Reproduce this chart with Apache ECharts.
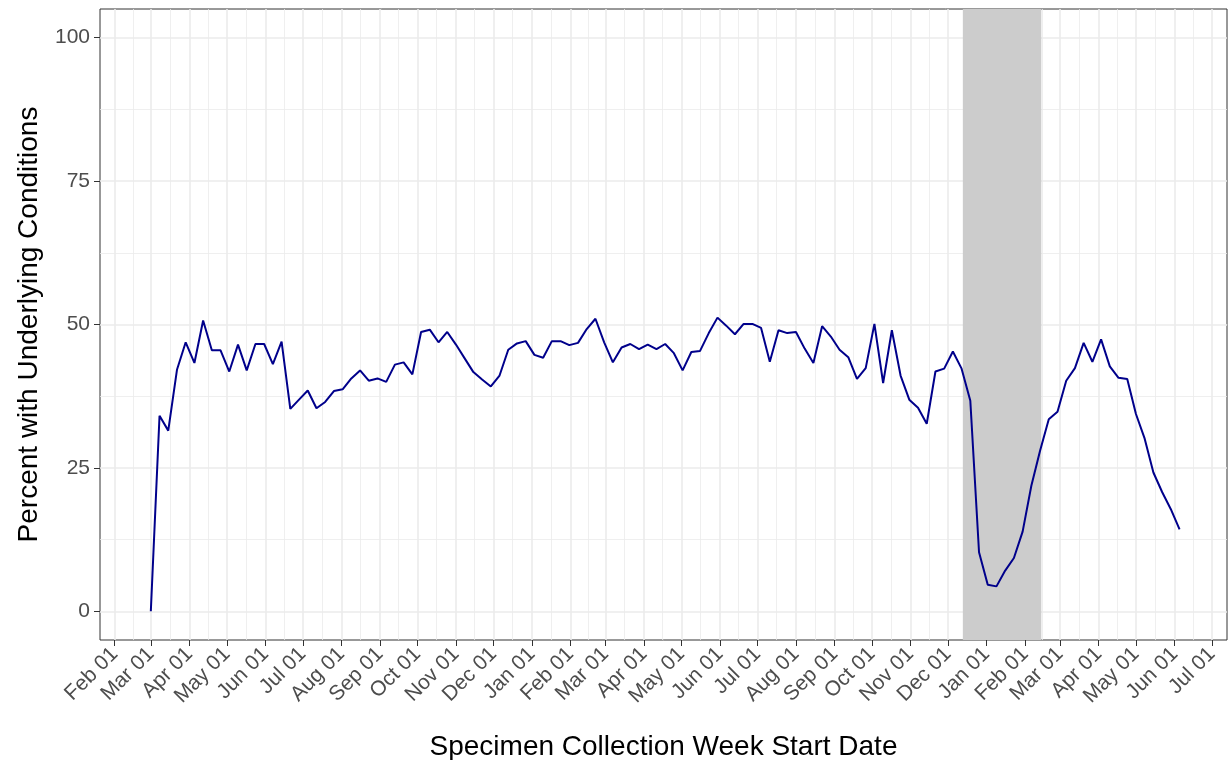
<!DOCTYPE html>
<html>
<head>
<meta charset="utf-8">
<title>Percent with Underlying Conditions</title>
<script src="https://cdn.jsdelivr.net/npm/echarts@6/dist/echarts.min.js"></script>
<style>
  html, body { margin: 0; padding: 0; background: #fff; }
  #chart { width: 1228px; height: 760px; }
</style>
</head>
<body>
<div id="chart"></div>
<script>
const DAY = 86400000

// weekly series, first week starts on firstWeek
const firstWeek = '2020-03-01'
const percentUnderlying = [
  0.0, 34.1, 31.5, 42.1, 46.9, 43.3, 50.7, 45.5, 45.5, 41.8,
  46.5, 42.0, 46.6, 46.6, 43.1, 47.0, 35.3, 36.9, 38.5, 35.4,
  36.5, 38.4, 38.7, 40.6, 42.0, 40.2, 40.6, 40.0, 43.0, 43.4,
  41.3, 48.7, 49.1, 46.9, 48.7, 46.5, 44.1, 41.7, 40.4, 39.2,
  41.1, 45.6, 46.7, 47.1, 44.7, 44.2, 47.1, 47.1, 46.4, 46.8,
  49.2, 51.0, 46.9, 43.4, 46.0, 46.6, 45.7, 46.5, 45.7, 46.6,
  45.0, 42.0, 45.2, 45.4, 48.5, 51.2, 49.8, 48.3, 50.1, 50.1,
  49.4, 43.5, 49.0, 48.5, 48.7, 45.8, 43.3, 49.7, 47.9, 45.6,
  44.3, 40.5, 42.4, 50.1, 39.8, 49.0, 41.1, 36.9, 35.5, 32.7,
  41.8, 42.3, 45.3, 42.3, 36.7, 10.3, 4.65, 4.35, 7.1, 9.3,
  13.9, 21.9, 28.0, 33.5, 34.8, 40.2, 42.4, 46.8, 43.5, 47.4,
  42.7, 40.7, 40.5, 34.4, 30.1, 24.2, 20.8, 17.8, 14.3
]

// grey band
const shadeStart = '2021-12-13'
const shadeEnd = '2022-02-14'

// axis breaks
const firstMonth = '2020-02-01'
const lastMonth = '2022-07-01'
const monthNames = ['Jan', 'Feb', 'Mar', 'Apr', 'May', 'Jun', 'Jul', 'Aug', 'Sep', 'Oct', 'Nov', 'Dec']
const yTicks = [0, 25, 50, 75, 100]
const yMinorTicks = [12.5, 37.5, 62.5, 87.5]

const toTs = (s) => {
  const [y, m, d] = s.split('-').map(Number)
  return Date.UTC(y, m - 1, d)
}

// month starts between firstMonth and lastMonth
const monthTicks = []
{
  const d = new Date(toTs(firstMonth))
  while (d.getTime() <= toTs(lastMonth)) {
    monthTicks.push(d.getTime())
    d.setUTCMonth(d.getUTCMonth() + 1)
  }
}
const monthMinor = monthTicks.slice(1).map((t, i) => (t + monthTicks[i]) / 2)

const xMin = toTs(firstMonth) - 11.8 * DAY
const xMax = toTs(firstMonth) + 893.1 * DAY

const seriesData = percentUnderlying.map((v, i) => [toTs(firstWeek) + i * 7 * DAY, v])

const fmtDate = (v) => {
  const d = new Date(v)
  return monthNames[d.getUTCMonth()] + ' ' + String(d.getUTCDate()).padStart(2, '0')
}

const font = 'Liberation Sans, Arial, Helvetica, sans-serif'
const gridColor = '#EBEBEB'

const option = {
  animation: false,
  textStyle: { fontFamily: font },
  grid: {
    left: 100, right: 1, top: 9, bottom: 120,
    outerBoundsMode: 'none', containLabel: false,
    show: true, borderColor: '#333333', borderWidth: 1, backgroundColor: '#fff'
  },
  xAxis: [
    {
      type: 'value', min: xMin, max: xMax, position: 'bottom',
      axisLine: { show: false, onZero: false },
      axisTick: { show: true, customValues: monthTicks, length: 6, lineStyle: { color: '#333333', width: 1 } },
      axisLabel: {
        customValues: monthTicks, rotate: 45, margin: 11,
        formatter: fmtDate, color: '#4D4D4D', fontSize: 21, fontFamily: font
      },
      splitLine: { show: true, lineStyle: { color: gridColor, width: 1.6 } },
      name: 'Specimen Collection Week Start Date',
      nameLocation: 'middle', nameGap: 93,
      nameTextStyle: { fontSize: 28, color: '#000', fontFamily: font }
    },
    {
      type: 'value', min: xMin, max: xMax, position: 'top',
      axisLine: { show: false, onZero: false },
      axisTick: { show: false, customValues: monthMinor },
      axisLabel: { show: false, customValues: monthMinor },
      splitLine: { show: true, lineStyle: { color: gridColor, width: 0.8 } }
    }
  ],
  yAxis: [
    {
      type: 'value', min: -5, max: 105, position: 'left',
      axisLine: { show: false, onZero: false },
      axisTick: { show: true, customValues: yTicks, length: 6, lineStyle: { color: '#333333', width: 1 } },
      axisLabel: { customValues: yTicks, margin: 10, color: '#4D4D4D', fontSize: 21, fontFamily: font },
      splitLine: { show: true, lineStyle: { color: gridColor, width: 1.6 } },
      name: 'Percent with Underlying Conditions',
      nameLocation: 'middle', nameGap: 57, nameRotate: 90,
      nameTextStyle: { fontSize: 28, color: '#000', fontFamily: font }
    },
    {
      type: 'value', min: -5, max: 105, position: 'right',
      axisLine: { show: false, onZero: false },
      axisTick: { show: false, customValues: yMinorTicks },
      axisLabel: { show: false, customValues: yMinorTicks },
      splitLine: { show: true, lineStyle: { color: gridColor, width: 0.8 } }
    }
  ],
  series: [
    {
      type: 'line', data: [], xAxisIndex: 0, yAxisIndex: 0, z: 1, silent: true,
      markArea: {
        silent: true,
        itemStyle: { color: '#CCCCCC', opacity: 1 },
        data: [[{ xAxis: toTs(shadeStart) }, { xAxis: toTs(shadeEnd) }]]
      }
    },
    {
      type: 'line', data: seriesData, xAxisIndex: 0, yAxisIndex: 0, z: 3,
      showSymbol: false, symbol: 'none',
      lineStyle: { color: '#00008B', width: 2 }
    }
  ]
}

const chart = echarts.init(document.getElementById('chart'))
chart.setOption(option)
window.addEventListener('resize', () => { chart.resize() })
</script>
</body>
</html>
